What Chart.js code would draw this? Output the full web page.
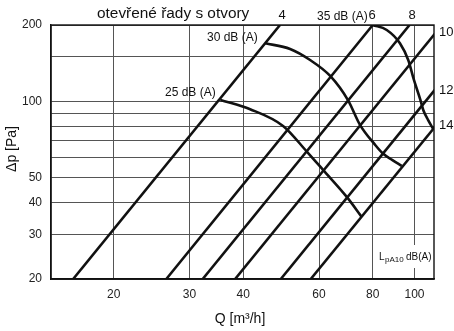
<!DOCTYPE html>
<html>
<head>
<meta charset="utf-8">
<script src="https://cdn.jsdelivr.net/npm/chart.js@4/dist/chart.umd.min.js"></script>
<style>
  html,body{margin:0;padding:0;background:#fff}
  canvas{display:block}
</style>
</head>
<body>
<canvas id="c" width="454" height="331"></canvas>
<script>
/* ------------ data ------------ */
const X_TICKS   = [20, 30, 40, 60, 80, 100];
const Y_GRID    = [20, 30, 40, 50, 60, 70, 80, 90, 100, 150, 200];
const Y_LABELS  = [20, 30, 40, 50, 100, 200];

// system lines: number of openings, Q where the line hits 20 Pa and 200 Pa
const LINE_NAMES  = ['4', '6', '8', '10', '12', '14'];
const Q_AT_20PA   = [16.1, 26.5, 32.2, 38.3, 48.9, 57.4];
const Q_AT_200PA  = [48.7, 80.0, 97.4, 115.8, 147.9, 174.0];

// noise curves
const DB25_Q = [35.4, 41.5, 49.5, 56.2, 61.3, 69.6, 75.3];
const DB25_P = [101.4, 93.2, 80.1, 63.5, 53.8, 42.1, 35.2];
const DB30_Q = [45.0, 51.4, 57.2, 63.7, 70.1, 74.7, 81.0, 84.6, 88.7, 93.4];
const DB30_P = [169.5, 160.9, 145.6, 126.0, 101.0, 80.9, 67.5, 62.2, 58.9, 55.8];
const DB35_Q = [80.0, 86.2, 92.5, 96.7, 99.7, 103.2, 104.8, 107.5, 110.7];
const DB35_P = [200, 191.2, 169.5, 145.6, 121.5, 101.4, 92.6, 84.6, 77.6];

/* ------------ helpers ------------ */
const FONT = '"Liberation Sans", Arial, sans-serif';
const zip = (xs, ys) => xs.map((x, i) => ({x, y: ys[i]}));

const datasets = [];
LINE_NAMES.forEach((n, i) => {
  datasets.push({label: n, data: [{x: Q_AT_20PA[i], y: 20}, {x: Q_AT_200PA[i], y: 200}],
    borderColor: '#111', borderWidth: 2.6, pointRadius: 0, showLine: true, clip: 0});
});
[[DB25_Q, DB25_P, '25'], [DB30_Q, DB30_P, '30'], [DB35_Q, DB35_P, '35']].forEach(([q, p, n]) => {
  datasets.push({label: n + ' dB', data: zip(q, p), borderColor: '#111', borderWidth: 2.6,
    pointRadius: 0, showLine: true, cubicInterpolationMode: 'monotone', clip: 0});
});

/* ------------ text & frame ------------ */
const decor = {
  id: 'decor',
  beforeDatasetsDraw(chart) {
    const ctx = chart.ctx;
    ctx.save();
    ctx.fillStyle = '#fff';
    ctx.fillRect(377, 245, 55, 23);   // gap behind the LpA10 label
    ctx.restore();
  },
  afterDatasetsDraw(chart) {
    const {ctx, chartArea: a} = chart;
    ctx.save();
    ctx.strokeStyle = '#111';
    ctx.lineWidth = 1.4;
    ctx.strokeRect(a.left, a.top, a.right - a.left, a.bottom - a.top);
    ctx.restore();
  },
  afterDraw(chart) {
    const ctx = chart.ctx;
    ctx.save();
    ctx.fillStyle = '#111';
    ctx.textBaseline = 'middle';
    const txt = (s, x, y, size, align) => {
      ctx.font = size + 'px ' + FONT;
      ctx.textAlign = align || 'left';
      ctx.fillText(s, x, y);
    };
    txt('otevřené řady s otvory', 97, 14, 15.4);
    txt('4', 282, 15, 13, 'center');
    txt('6', 372, 15, 13, 'center');
    txt('8', 412, 15, 13, 'center');
    txt('35 dB (A)', 317, 17, 12);
    txt('10', 439, 32, 13);
    txt('12', 439, 90, 13);
    txt('14', 439, 125, 13);
    txt('30 dB (A)', 207, 38, 12);
    txt('25 dB (A)', 165, 93, 12);
    txt('L', 379, 257, 10);
    txt('pA10', 385, 260, 8);
    txt('dB(A)', 406, 257, 10);
    txt('Q [m³/h]', 240, 319, 14, 'center');
    ctx.translate(12, 149);
    ctx.rotate(-Math.PI / 2);
    txt('Δp [Pa]', 0, 0, 14, 'center');
    ctx.restore();
  }
};

/* ------------ chart ------------ */
new Chart(document.getElementById('c'), {
  type: 'scatter',
  data: {datasets},
  options: {
    responsive: false,
    animation: false,
    layout: {padding: {left: 0, top: 25, right: 20, bottom: 0}},
    plugins: {legend: {display: false}, tooltip: {enabled: false}},
    scales: {
      x: {
        type: 'logarithmic', min: 14.3, max: 111,
        afterBuildTicks: s => { s.ticks = X_TICKS.map(v => ({value: v})); },
        afterFit: s => { s.height = 52; },
        ticks: {callback: v => String(v), autoSkip: false, maxRotation: 0, padding: 8,
                color: '#222', font: {family: FONT, size: 12}},
        grid: {color: '#555', lineWidth: 1, drawTicks: false},
        border: {color: '#111', width: 1.4}
      },
      y: {
        type: 'logarithmic', min: 20, max: 200,
        afterBuildTicks: s => { s.ticks = Y_GRID.map(v => ({value: v})); },
        afterFit: s => { s.width = 51; },
        ticks: {callback: v => Y_LABELS.includes(v) ? String(v) : '', autoSkip: false, padding: 9,
                color: '#222', font: {family: FONT, size: 12}},
        grid: {color: '#555', lineWidth: 1, drawTicks: false},
        border: {color: '#111', width: 1.4}
      }
    }
  },
  plugins: [decor]
});
</script>
</body>
</html>
